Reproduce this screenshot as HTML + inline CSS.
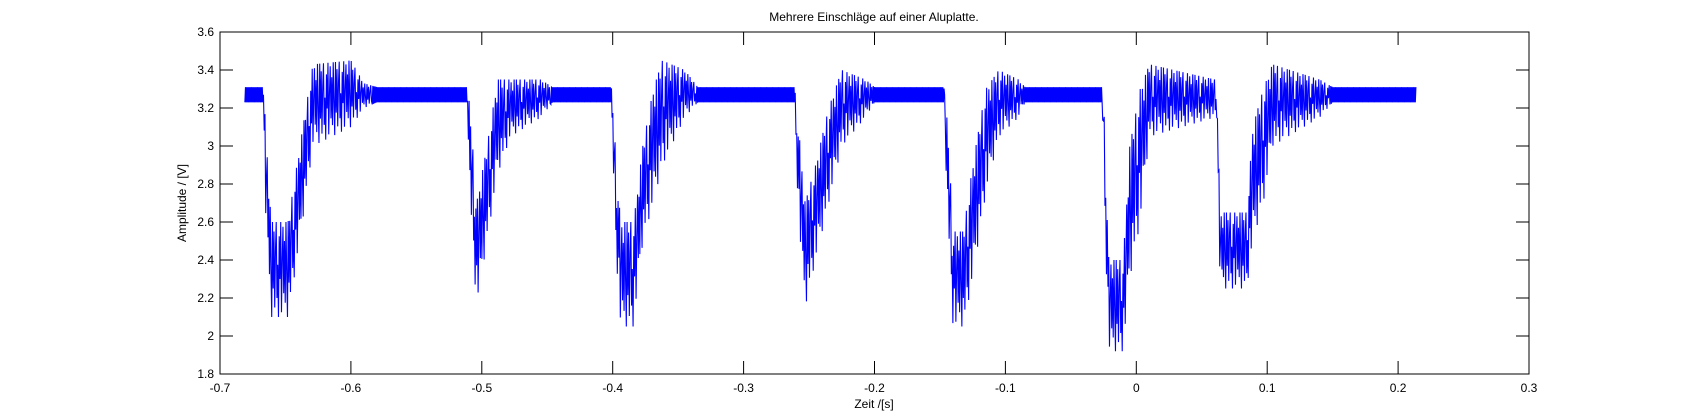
<!DOCTYPE html>
<html><head><meta charset="utf-8"><style>
html,body{margin:0;padding:0;background:#fff;}
svg{display:block;font-family:"Liberation Sans",Arial,sans-serif;}
</style></head><body>
<svg id="chart" width="1689" height="420" viewBox="0 0 1689 420" xmlns="http://www.w3.org/2000/svg">
<rect x="0" y="0" width="1689" height="420" fill="#fff"/>
<text x="874" y="21" font-size="12" text-anchor="middle">Mehrere Einschläge auf einer Aluplatte.</text>
<g id="plot"></g>
<g id="axes"></g>
<text x="874" y="408" font-size="12" text-anchor="middle">Zeit /[s]</text>
<text x="0" y="0" font-size="12" text-anchor="middle" transform="translate(186,203) rotate(-90)">Amplitude / [V]</text>
</svg>
<script>
const xTicks = [-0.7,-0.6,-0.5,-0.4,-0.3,-0.2,-0.1,0,0.1,0.2,0.3];
const xTickLabels = ["-0.7","-0.6","-0.5","-0.4","-0.3","-0.2","-0.1","0","0.1","0.2","0.3"];
const yTicks = [1.8,2,2.2,2.4,2.6,2.8,3,3.2,3.4,3.6];
const yTickLabels = ["1.8","2","2.2","2.4","2.6","2.8","3","3.2","3.4","3.6"];
const envTimes = [-0.681,-0.667,-0.665,-0.661,-0.648,-0.639,-0.629,-0.600,-0.590,-0.580,-0.511,-0.509,-0.504,-0.496,-0.488,-0.478,-0.455,-0.446,-0.401,-0.398,-0.394,-0.384,-0.377,-0.369,-0.362,-0.345,-0.335,-0.261,-0.258,-0.253,-0.245,-0.235,-0.225,-0.207,-0.200,-0.147,-0.144,-0.140,-0.132,-0.125,-0.115,-0.105,-0.090,-0.085,-0.026,-0.024,-0.021,-0.010,-0.005,0.003,0.010,0.060,0.0615,0.064,0.0845,0.089,0.097,0.104,0.140,0.150,0.214];
const envLow = [3.23,3.23,2.6,2.1,2.1,2.5,3.0,3.1,3.2,3.23,3.23,2.7,2.15,2.5,2.85,3.05,3.15,3.23,3.23,2.5,2.05,2.05,2.5,2.7,2.9,3.15,3.23,3.23,2.6,2.15,2.4,2.7,3.0,3.15,3.23,3.23,2.6,2.05,2.05,2.3,2.75,3.05,3.15,3.23,3.23,2.6,1.92,1.92,2.3,2.6,3.05,3.15,3.15,2.25,2.25,2.5,2.7,3.0,3.15,3.23,3.23];
const envHigh = [3.31,3.31,3.1,2.6,2.6,3.0,3.43,3.45,3.33,3.31,3.31,3.2,2.7,3.0,3.35,3.35,3.35,3.31,3.31,3.0,2.6,2.6,3.0,3.3,3.45,3.4,3.31,3.31,3.1,2.7,2.9,3.2,3.4,3.35,3.31,3.31,3.1,2.55,2.55,2.9,3.3,3.4,3.35,3.31,3.31,3.1,2.4,2.4,3.0,3.3,3.43,3.35,3.31,2.65,2.65,3.1,3.3,3.43,3.35,3.31,3.31];
const noisePattern = [0,1,0.3,0.9,0.1,0.7,1,0.2,0.55,0,0.85,0.4,1,0.05,0.6,0.95,0.25,0.8,0.15,1,0.45];

const X0=220,X1=1529,Y0=32,Y1=374;
function xs(t){return X0+(t+0.7)/1.0*(X1-X0);}
function ys(v){return Y1-(v-1.8)/1.8*(Y1-Y0);}
const NS="http://www.w3.org/2000/svg";
const axes=document.getElementById('axes');
const plot=document.getElementById('plot');

function interp(t){
  for(let i=0;i<envTimes.length-1;i++){
    if(t>=envTimes[i]&&t<=envTimes[i+1]){
      const f=(t-envTimes[i])/(envTimes[i+1]-envTimes[i]);
      return [envLow[i]+(envLow[i+1]-envLow[i])*f, envHigh[i]+(envHigh[i+1]-envHigh[i])*f];
    }
  }
  return [envLow[envLow.length-1],envHigh[envHigh.length-1]];
}
let d="";
const tStart=envTimes[0], tEnd=envTimes[envTimes.length-1];
let k=0;
for(let t=tStart;t<=tEnd;){
  const e=interp(t);
  const band=(e[1]-e[0])<0.1;
  const f=band?(k%2):noisePattern[k%noisePattern.length];
  const v=e[0]+(e[1]-e[0])*f;
  d+=(k===0?"M":"L")+xs(t).toFixed(2)+","+ys(v).toFixed(2);
  k++;
  t+=(band?0.6:0.75)/(X1-X0);
}
const line=document.createElementNS(NS,'path');
line.setAttribute('d',d);
line.setAttribute('fill','none');
line.setAttribute('stroke','#0000ff');
line.setAttribute('stroke-width','1.1');


plot.appendChild(line);

const box=document.createElementNS(NS,'rect');
box.setAttribute('x',X0);box.setAttribute('y',Y0);
box.setAttribute('width',X1-X0);box.setAttribute('height',Y1-Y0);
box.setAttribute('fill','none');box.setAttribute('stroke','#000');box.setAttribute('stroke-width','1');


axes.appendChild(box);

const TL=13;
xTicks.forEach((t,i)=>{
  const x=xs(t);
  const tk=document.createElementNS(NS,'path');
  tk.setAttribute('d',`M${x},${Y1}V${Y1-TL}M${x},${Y0}V${Y0+TL}`);
  tk.setAttribute('stroke','#000');
  
  
  axes.appendChild(tk);
  const lb=document.createElementNS(NS,'text');
  lb.setAttribute('x',x);lb.setAttribute('y',Y1+18);
  lb.setAttribute('font-size','12');lb.setAttribute('text-anchor','middle');
  lb.textContent=xTickLabels[i];
  
  
  axes.appendChild(lb);
});
yTicks.forEach((v,i)=>{
  const y=ys(v);
  const tk=document.createElementNS(NS,'path');
  tk.setAttribute('d',`M${X0},${y}H${X0+TL}M${X1},${y}H${X1-TL}`);
  tk.setAttribute('stroke','#000');
  
  
  axes.appendChild(tk);
  const lb=document.createElementNS(NS,'text');
  lb.setAttribute('x',X0-6);lb.setAttribute('y',y+4);
  lb.setAttribute('font-size','12');lb.setAttribute('text-anchor','end');
  lb.textContent=yTickLabels[i];
  
  
  axes.appendChild(lb);
});
</script>
</body></html>
